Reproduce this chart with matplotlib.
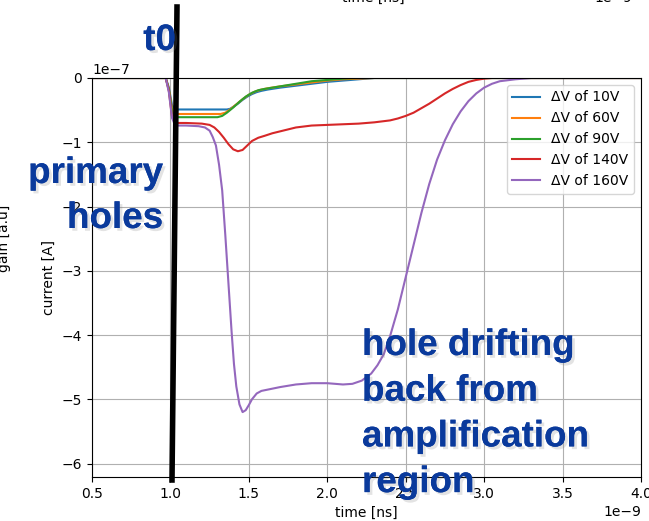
import numpy as np
import matplotlib.pyplot as plt
from matplotlib.lines import Line2D
import matplotlib.patheffects as pe

# time in ns, current in 1e-7 A
t_10 = [0.5, 0.97, 0.99, 1.01, 1.03, 1.2, 1.36, 1.38, 1.40, 1.43, 1.46, 1.49, 1.52, 1.55,
        1.58, 1.62, 1.70, 1.80, 1.90, 2.00, 2.10, 2.20, 2.30, 4.0]
i_10 = [0, 0, -0.15, -0.42, -0.49, -0.49, -0.49, -0.48, -0.45, -0.40, -0.34, -0.29, -0.25, -0.22,
        -0.20, -0.18, -0.15, -0.12, -0.09, -0.06, -0.04, -0.02, 0, 0]

t_60 = [0.5, 0.97, 0.99, 1.01, 1.03, 1.2, 1.32, 1.35, 1.38, 1.42, 1.46, 1.50, 1.54, 1.58,
        1.62, 1.70, 1.80, 1.90, 2.00, 2.10, 2.20, 2.30, 4.0]
i_60 = [0, 0, -0.17, -0.48, -0.56, -0.56, -0.56, -0.54, -0.49, -0.41, -0.33, -0.26, -0.21, -0.18,
        -0.16, -0.13, -0.10, -0.07, -0.04, -0.02, -0.01, 0, 0]

t_90 = [0.5, 0.97, 0.99, 1.01, 1.03, 1.2, 1.30, 1.33, 1.36, 1.40, 1.44, 1.48, 1.52, 1.56,
        1.60, 1.70, 1.80, 1.90, 2.00, 2.10, 2.20, 4.0]
i_90 = [0, 0, -0.18, -0.52, -0.61, -0.61, -0.61, -0.59, -0.54, -0.46, -0.37, -0.29, -0.23, -0.19,
        -0.17, -0.13, -0.09, -0.05, -0.03, -0.01, 0, 0]

t_140 = [0.5, 0.97, 0.99, 1.01, 1.03, 1.1, 1.2, 1.25, 1.28, 1.31, 1.34, 1.37, 1.40, 1.43,
         1.46, 1.49, 1.52, 1.56, 1.6, 1.65, 1.7, 1.8, 1.9, 2.0, 2.1, 2.2, 2.3, 2.4, 2.45,
         2.5, 2.55, 2.6, 2.65, 2.7, 2.75, 2.8, 2.85, 2.9, 2.95, 3.0, 3.05, 4.0]
i_140 = [0, 0, -0.2, -0.6, -0.70, -0.70, -0.71, -0.73, -0.77, -0.84, -0.93, -1.03, -1.11, -1.14,
         -1.12, -1.05, -0.98, -0.93, -0.90, -0.86, -0.83, -0.77, -0.74, -0.73, -0.72, -0.71,
         -0.69, -0.66, -0.63, -0.59, -0.54, -0.47, -0.40, -0.32, -0.24, -0.17, -0.11, -0.06,
         -0.03, -0.01, 0, 0]

t_160 = [0.5, 0.97, 0.99, 1.01, 1.03, 1.1, 1.18, 1.22, 1.25, 1.27, 1.29, 1.31, 1.33, 1.35,
         1.37, 1.39, 1.405, 1.42, 1.44, 1.46, 1.48, 1.50, 1.52, 1.55, 1.58, 1.62, 1.7, 1.8,
         1.9, 2.0, 2.1, 2.16, 2.22, 2.28, 2.32, 2.36, 2.4, 2.45, 2.5, 2.55, 2.6, 2.65, 2.7,
         2.75, 2.8, 2.85, 2.9, 2.95, 3.0, 3.05, 3.1, 3.2, 3.3, 4.0]
i_160 = [0, 0, -0.22, -0.62, -0.74, -0.74, -0.75, -0.77, -0.82, -0.92, -1.05, -1.35, -1.75, -2.45,
         -3.2, -3.95, -4.45, -4.8, -5.08, -5.2, -5.17, -5.09, -5.0, -4.91, -4.87, -4.85, -4.81,
         -4.77, -4.75, -4.75, -4.77, -4.76, -4.71, -4.6, -4.47, -4.3, -4.02, -3.6, -3.1, -2.6,
         -2.1, -1.65, -1.27, -0.97, -0.72, -0.52, -0.36, -0.24, -0.15, -0.09, -0.05, -0.02, 0, 0]

series = [(t_10, i_10, "ΔV of 10V"), (t_60, i_60, "ΔV of 60V"), (t_90, i_90, "ΔV of 90V"),
          (t_140, i_140, "ΔV of 140V"), (t_160, i_160, "ΔV of 160V")]

W, H = 649, 521
fig = plt.figure(figsize=(W / 100, H / 100), dpi=100)
ax = fig.add_axes([92 / W, 1 - 477 / H, (641 - 92) / W, (477 - 78) / H])

for t, i, lab in series:
    ax.plot(np.array(t) * 1e-9, np.array(i) * 1e-7, label=lab)

ax.set_xlim(0.5e-9, 4.0e-9)
ax.set_ylim(-6.21e-7, 0)
ax.grid(True)
ax.set_xlabel("time [ns]")
ax.set_ylabel("current [A]")
ax.legend(loc="upper right")

# leftovers of the neighbouring subplots
fig.text(373 / W, 1 - 2 / H, "time [ns]", ha="center", va="baseline", fontsize=10)
fig.text(632 / W, 1 - 2 / H, "1e−9", ha="right", va="baseline", fontsize=10)
fig.text(4 / W, 1 - 238 / H, "gain [a.u]", rotation=90, ha="center", va="center", fontsize=10)

# annotations
fig.add_artist(Line2D([177 / W, 172 / W], [1 - 7 / H, 1 - 480 / H], lw=4, color="black"))

blue = "#0a3a9c"
shadow = [pe.withSimplePatchShadow(offset=(2, -2), shadow_rgbFace="gray", alpha=0.22),
          pe.Normal()]
kw = dict(color=blue, fontsize=26.5, fontweight="bold", family="Liberation Sans",
          va="baseline", path_effects=shadow)

fig.text(176 / W, 1 - 50 / H, "t0", ha="right", **kw)
fig.text(163 / W, 1 - 183 / H, "primary", ha="right", **kw)
fig.text(163 / W, 1 - 228 / H, "holes", ha="right", **kw)
for k, line in enumerate(["hole drifting", "back from", "amplification", "region"]):
    fig.text(362 / W, 1 - (355 + 45.7 * k) / H, line, ha="left", **kw)

fig.savefig("out.png", dpi=100)
